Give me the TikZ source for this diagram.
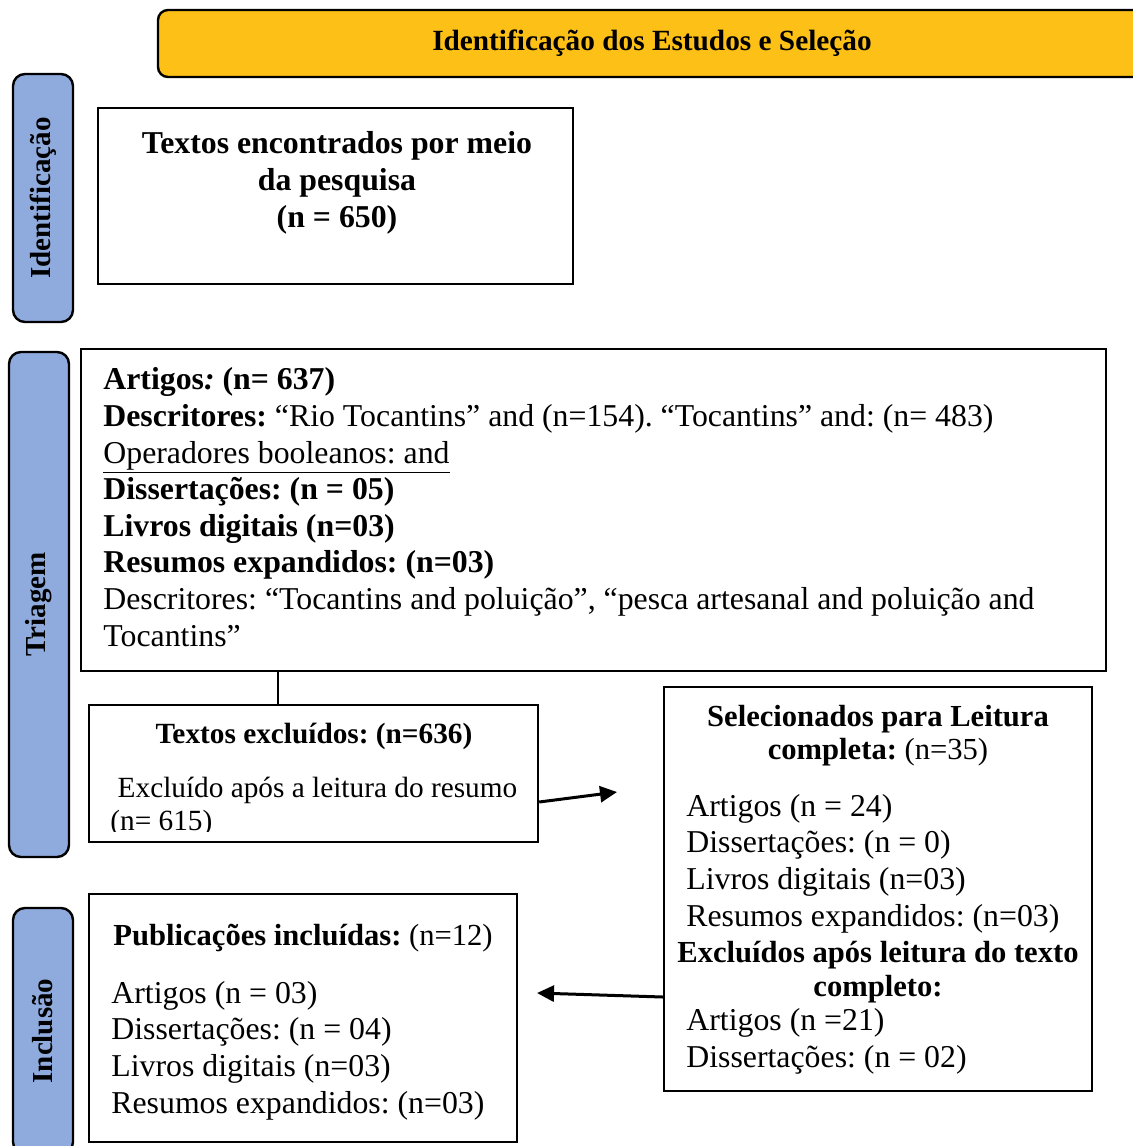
\documentclass[tikz,border=0pt]{standalone}
\usepackage{fontspec}
\setmainfont{Liberation Serif}
\frenchspacing
\usetikzlibrary{arrows.meta}
\definecolor{faixa}{HTML}{FDC016}
\definecolor{lateral}{HTML}{8FAADC}

\begin{document}
\begin{tikzpicture}[x=0.5pt,y=-0.5pt,
	caixa/.style={draw,line width=1.2pt,inner sep=0pt},
	lado/.style={draw,line width=1.2pt,fill=lateral,rounded corners=6pt,rotate=90,minimum height=30pt,inner sep=0pt,font=\fontsize{14.5pt}{17pt}\selectfont\bfseries},
	texto/.style={inner sep=0pt,font=\fontsize{15.9pt}{18.3pt}\selectfont},
	textob/.style={inner sep=0pt,font=\fontsize{15.9pt}{18.3pt}\selectfont\bfseries},
	seta/.style={line width=1.5pt,-{Triangle[length=8.5pt,width=8pt]}}]
	\useasboundingbox (0,0) rectangle (1133,1146);
	% faixa do topo
	\node[draw,line width=1.2pt,fill=faixa,rounded corners=5pt,minimum width=494pt,minimum height=33.5pt,font=\fontsize{14.65pt}{17pt}\selectfont\bfseries] (H) at (652,43.5) {Identificação dos Estudos e Seleção};
	\node[lado,minimum width=124pt] (L1) at (43,198) {Identificação};
	\node[lado,minimum width=252.5pt] (L2) at (39,604.5) {Triagem};
	\node[lado,minimum width=123pt] (L3) at (43,1031) {Inclusão};
	% caixas
	\node[caixa,minimum width=237.5pt,minimum height=88pt] (A) at (335.5,196) {};
	\node[caixa,minimum width=512.5pt,minimum height=161pt] (B) at (593.5,510) {};
	\node[caixa,minimum width=224.5pt,minimum height=68.5pt] (C) at (313.5,773.5) {};
	\node[caixa,minimum width=214pt,minimum height=202pt] (D) at (878,889) {};
	\node[caixa,minimum width=214pt,minimum height=124pt] (E) at (303,1018) {};
	% textos (base = ultima linha)
	\node[textob,align=center,anchor=base] (A1) at (337,227) {Textos encontrados por meio\\da pesquisa\\(n = 650)};
	\node[texto,align=left,anchor=base west] (B1) at (103,646) {\textbf{Artigos\textit{:} (n= 637)}\\
		\textbf{Descritores:} “Rio Tocantins” and (n=154). “Tocantins” and: (n= 483)\\
		\underline{Operadores booleanos: and}\\
		\textbf{Dissertações: (n = 05)}\\
		\textbf{Livros digitais (n=03)}\\
		\textbf{Resumos expandidos: (n=03)}\\
		Descritores: “Tocantins and poluição”, “pesca artesanal and poluição and\\
		Tocantins”};
	\node[textob,font=\fontsize{14.65pt}{17pt}\selectfont\bfseries,anchor=base] (C1) at (314,743) {Textos excluídos: (n=636)};
	\begin{scope}
	\clip (89,705) rectangle (538,831);
	\node[texto,font=\fontsize{14.65pt}{16.5pt}\selectfont,align=left,anchor=base west] (C2) at (110,830) {\ Excluído após a leitura do resumo\\(n= 615)};
	\end{scope}
	\node[textob,font=\fontsize{15.3pt}{16.5pt}\selectfont\bfseries,align=center,anchor=base] (D1) at (878,759) {Selecionados para Leitura\\completa: {\mdseries(n=35)}};
	\node[texto,align=left,anchor=base west] (D2) at (686,926) {Artigos (n = 24)\\Dissertações: (n = 0)\\Livros digitais (n=03)\\Resumos expandidos: (n=03)};
	\node[textob,font=\fontsize{15.3pt}{17pt}\selectfont\bfseries,align=center,anchor=base] (D3) at (878,996) {Excluídos após leitura do texto\\completo:};
	\node[texto,align=left,anchor=base west] (D4) at (686,1067) {Artigos (n =21)\\Dissertações: (n = 02)};
	\node[texto,font=\fontsize{15.3pt}{18.3pt}\selectfont,anchor=base] (E1) at (303,945) {\textbf{Publicações incluídas:} (n=12)};
	\node[texto,align=left,anchor=base west] (E2) at (111,1113) {Artigos (n = 03)\\Dissertações: (n = 04)\\Livros digitais (n=03)\\Resumos expandidos: (n=03)};
	% ligacoes
	\draw[line width=1.2pt] (C.north) ++(-17.75pt,0) coordinate (c1) -- (c1 |- B.south);
	\coordinate (F1) at (617,792);
	\coordinate (F2) at (537,993);
	\draw[seta] ([yshift=-14.25pt]C.east) -- (F1);
	\draw[seta] ([yshift=-54pt]D.west) -- (F2);
\end{tikzpicture}
\end{document}
